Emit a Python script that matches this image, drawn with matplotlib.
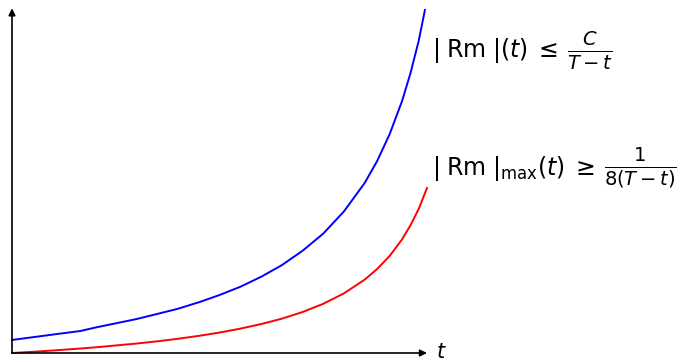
import matplotlib
matplotlib.use("Agg")
import matplotlib.pyplot as plt

plt.rcParams['mathtext.fontset'] = 'dejavusans'

# Curve samples (t normalised to [0, 1], y in axis units)
t_blue = [0.0, 0.05, 0.1, 0.164, 0.2, 0.3, 0.357, 0.4, 0.453, 0.5, 0.55, 0.6,
          0.65, 0.7, 0.75, 0.8, 0.85, 0.88, 0.91, 0.94, 0.96, 0.98, 0.995]
y_blue = [0.038, 0.046, 0.054, 0.064, 0.074, 0.099, 0.116, 0.129, 0.149, 0.169,
          0.193, 0.222, 0.256, 0.298, 0.348, 0.413, 0.496, 0.560, 0.638, 0.735,
          0.815, 0.910, 1.0]

t_red = [0.0, 0.05, 0.1, 0.164, 0.2, 0.3, 0.357, 0.4, 0.453, 0.5, 0.55, 0.6,
         0.65, 0.7, 0.75, 0.8, 0.85, 0.88, 0.91, 0.94, 0.96, 0.98, 1.0]
y_red = [0.0, 0.0035, 0.0074, 0.013, 0.0164, 0.0275, 0.035, 0.0415, 0.0505,
         0.0596, 0.071, 0.0842, 0.100, 0.1194, 0.1434, 0.1739, 0.2141, 0.245,
         0.283, 0.3315, 0.372, 0.420, 0.481]

label_blue_lhs = r'$|\;\mathrm{Rm}\;|(t)\;\leq$'
label_blue_rhs = r'$\frac{C}{T-t}$'
label_red_lhs = r'$|\;\mathrm{Rm}\;|_{\mathrm{max}}(t)\;\geq$'
label_red_rhs = r'$\frac{1}{8(T-t)}$'
label_t = r'$t$'

W, H = 694, 362
fig = plt.figure(figsize=(W / 100, H / 100), dpi=100)
x0, x1 = 12, 427
y0, y1 = 353, 10
ax = fig.add_axes([x0 / W, (H - y0) / H, (x1 - x0) / W, (y0 - y1) / H])
ax.set_xlim(0, 1)
ax.set_ylim(0, 1)
ax.axis('off')

ax.plot(t_blue, y_blue, color='#0000ff', lw=1.4, clip_on=False)
ax.plot(t_red, y_red, color='#ff0000', lw=1.4, clip_on=False)

arrow = dict(arrowstyle='-|>', color='black', lw=1.2, mutation_scale=10,
             shrinkA=0, shrinkB=0)
ax.annotate('', xy=(1.0, 0), xytext=(0, 0), arrowprops=arrow, annotation_clip=False)
ax.annotate('', xy=(0, 1.005), xytext=(0, 0), arrowprops=arrow, annotation_clip=False)

ax.text(1.022, 0.004, label_t, fontsize=15, ha='left', va='center', clip_on=False)

t1 = ax.text(1.013, 0.863, label_blue_lhs, fontsize=17, ha='left',
             va='baseline', clip_on=False)
ax.annotate(label_blue_rhs, xy=(1, 0.5), xycoords=t1, xytext=(6, 0),
            textcoords='offset points', fontsize=20, ha='left', va='center',
            annotation_clip=False)

t2 = ax.text(1.013, 0.519, label_red_lhs, fontsize=17, ha='left',
             va='baseline', clip_on=False)
ax.annotate(label_red_rhs, xy=(1, 0.5), xycoords=t2, xytext=(6, 1),
            textcoords='offset points', fontsize=20, ha='left', va='center',
            annotation_clip=False)

fig.savefig('out.png', dpi=100)
